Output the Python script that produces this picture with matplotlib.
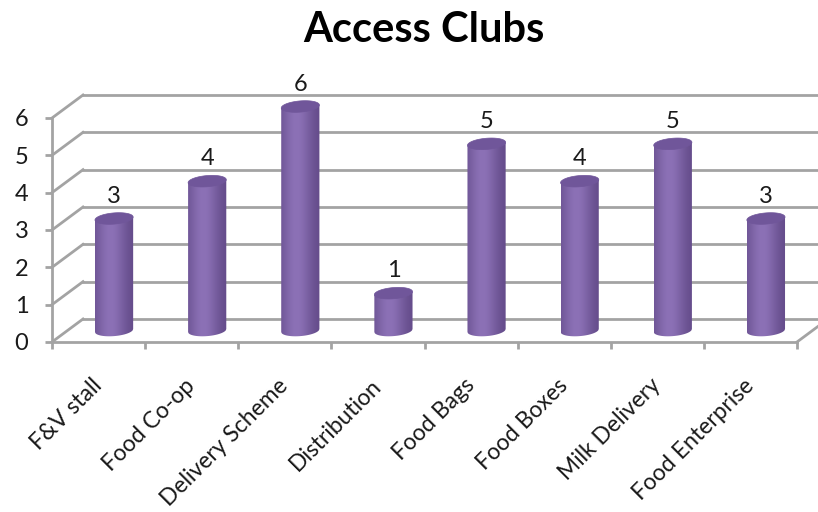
import numpy as np
import matplotlib
matplotlib.use("Agg")
import matplotlib.pyplot as plt
import matplotlib.transforms as mtransforms
from matplotlib.patches import Polygon

categories = ["F&V stall", "Food Co-op", "Delivery Scheme", "Distribution",
              "Food Bags", "Food Boxes", "Milk Delivery", "Food Enterprise"]
values = [3, 4, 6, 1, 5, 4, 5, 3]
y_ticks = [0, 1, 2, 3, 4, 5, 6]
title = "Access Clubs"

FONT = ["Lato", "DejaVu Sans"]
GRID = "#a3a3a3"
TEXT = "#1a1a1a"

fig = plt.figure(figsize=(8.18, 5.12), dpi=100)
W, H = 818, 512
ax = fig.add_axes([52 / W, 170 / H, 745 / W, 224 / H])

# depth offsets of the 3D box (back wall and mid plane), in inches
depth_dx, depth_dy = 0.31, 0.23
back = ax.transData + mtransforms.ScaledTranslation(depth_dx, depth_dy, fig.dpi_scale_trans)
mid = ax.transData + mtransforms.ScaledTranslation(depth_dx / 2, depth_dy / 2, fig.dpi_scale_trans)

n = len(categories)

# cylinders
a = 0.205       # half width (category units)
b = 0.15        # ellipse half height (value units)
shear = 0.04    # slight tilt of the ellipses
light = np.array([140, 113, 182]) / 255
dark = np.array([96, 72, 134]) / 255
top_col = np.array([112, 86, 154]) / 255

tt = np.linspace(-1, 1, 200)
wgt = np.exp(-((tt + 0.2) / 0.8) ** 2)
grad = (dark[None, :] + (light - dark)[None, :] * wgt[:, None])[None, :, :]

for i, v in enumerate(values):
    c = i + 0.5
    xx = np.linspace(c - a, c + a, 80)
    t = (xx - c) / a
    yb = -b * np.sqrt(np.clip(1 - t ** 2, 0, 1)) + shear * t
    outline = np.vstack([np.column_stack([xx, yb]),
                         [[c + a, v + shear], [c - a, v - shear]]])
    body = Polygon(outline, closed=True, transform=mid)
    im = ax.imshow(grad, extent=[c - a, c + a, -b - 0.1, v + 0.1], transform=mid,
                   aspect="auto", interpolation="bilinear", origin="lower", zorder=3)
    im.set_clip_box(fig.bbox)
    im.set_clip_path(body)
    th = np.linspace(0, 2 * np.pi, 120)
    ex = c + a * np.cos(th)
    ey = v + b * np.sin(th) + shear * np.cos(th)
    ax.add_patch(Polygon(np.column_stack([ex, ey]), closed=True, transform=mid,
                         facecolor=top_col, edgecolor=top_col, lw=0.5,
                         clip_on=False, zorder=4))
    ax.annotate(str(v), xy=(c, v), xycoords=mid, xytext=(0, 16), textcoords="offset points",
                ha="center", va="center", fontfamily=FONT, fontsize=17, color=TEXT,
                zorder=5, annotation_clip=False)

ax.set_xlim(0, n)
ax.set_ylim(0, max(y_ticks))
ax.set_aspect("auto")

# front spines and ticks
for s in ["top", "right"]:
    ax.spines[s].set_visible(False)
for s in ["left", "bottom"]:
    ax.spines[s].set_color(GRID)
    ax.spines[s].set_linewidth(2)
ax.set_yticks(y_ticks)
ax.set_yticklabels([str(t) for t in y_ticks], fontfamily=FONT, fontsize=17, color=TEXT)
ax.tick_params(axis="y", length=5, width=2, color=GRID, pad=12)
ax.set_xticks(np.arange(n + 1))
ax.set_xticklabels([])
ax.tick_params(axis="x", which="major", length=5, width=2, color=GRID, direction="out")
ax.set_xticks(np.arange(n) + 0.5, minor=True)
ax.set_xticklabels(categories, minor=True, rotation=45, ha="right",
                   rotation_mode="anchor", fontfamily=FONT, fontsize=16.5, color=TEXT)
ax.tick_params(axis="x", which="minor", length=0, pad=29)
for lbl in ax.get_xticklabels(minor=True):
    lbl.set_va("center")

# back wall gridlines and side wall diagonals
for v in y_ticks:
    ax.plot([0, n], [v, v], transform=back, color=GRID, lw=2, clip_on=False, zorder=1)
    p0 = ax.transData.transform((0, v))
    p1 = back.transform((0, v))
    ax.plot([p0[0], p1[0]], [p0[1], p1[1]], transform=None, color=GRID, lw=2,
            clip_on=False, zorder=1)
p0 = ax.transData.transform((n, 0))
p1 = back.transform((n, 0))
ax.plot([p0[0], p1[0]], [p0[1], p1[1]], transform=None, color=GRID, lw=2,
        clip_on=False, zorder=1)

fig.text(424 / W, 1 - 42 / H, title, ha="center", va="baseline",
         fontfamily=FONT, fontsize=30, fontweight="bold", color="#000000")

fig.savefig("out.png", dpi=100)
